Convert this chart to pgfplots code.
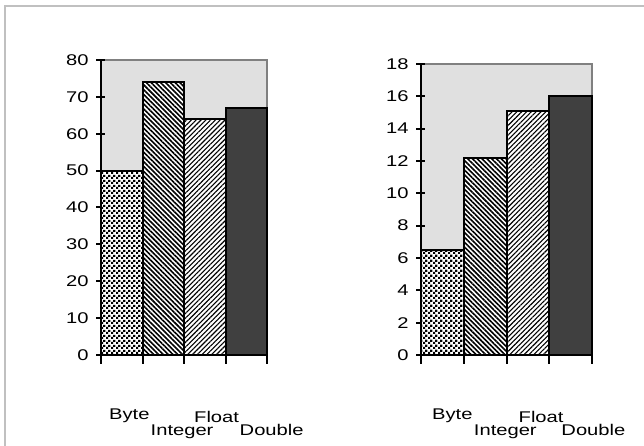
\documentclass[border=0pt]{standalone}
\usepackage{fontspec}
\setmainfont{Liberation Sans}[FakeStretch=1.3]
\usepackage{pgfplots}
\pgfplotsset{compat=1.18}
\usetikzlibrary{patterns,patterns.meta}
\pgfdeclarepattern{name=checker, type=uncolored,
  bottom left={\pgfpoint{0pt}{0pt}}, top right={\pgfpoint{4.6pt}{4.6pt}},
  tile size={\pgfpoint{4.6pt}{4.6pt}},
  code={\pgfpathrectangle{\pgfpoint{0pt}{0pt}}{\pgfpoint{2.3pt}{2.3pt}}\pgfusepath{fill}
        \pgfpathrectangle{\pgfpoint{2.3pt}{2.3pt}}{\pgfpoint{2.3pt}{2.3pt}}\pgfusepath{fill}}}
\definecolor{bggray}{HTML}{E0E0E0}
\definecolor{edgegray}{HTML}{808080}
\definecolor{framegray}{HTML}{C0C0C0}
\definecolor{dbl}{HTML}{404040}
\newcommand{\lblfont}{\fontsize{15.5}{18}\selectfont}
\tikzset{lbl/.style={font=\lblfont, anchor=base west, inner sep=0pt}}
\pgfplotsset{mybar/.style={
  scale only axis, anchor=south west,
  xmin=-0.5, xmax=3.5, ymin=0,
  ybar, bar width=1, bar shift=0pt,
  axis x line*=bottom, axis y line*=left,
  axis line style={line width=2.2pt, black, -},
  axis background/.style={fill=bggray, draw=edgegray, line width=2.2pt},
  xtick={-0.5,0.5,1.5,2.5,3.5}, xticklabels={},
  tick align=outside, major tick length=9pt,
  x tick style={line width=2pt, black},
  y tick style={line width=2pt, black, xshift=4pt},
  tick label style={font=\lblfont},
  /pgf/number format/assume math mode=true,
  clip=false,
  every axis plot/.append style={draw=black, line width=2pt},
}}
\begin{document}
\begin{tikzpicture}
\useasboundingbox (0pt,0pt) rectangle (644pt,446pt);
\draw[framegray, line width=2.5pt] (5pt,0pt) -- (5pt,440pt) -- (644pt,440pt);
% Left chart
\begin{axis}[mybar, at={(101pt,91pt)}, width=166pt, height=295pt, ymax=80, ytick distance=10]
\addplot[preaction={fill=white}, pattern=checker] coordinates {(0,50)};
\addplot[preaction={fill=white}, pattern={Lines[angle=-45,distance=3.4pt,line width=1.6pt]}] coordinates {(1,74)};
\addplot[preaction={fill=white}, pattern={Lines[angle=45,distance=3.4pt,line width=1.1pt]}] coordinates {(2,64)};
\addplot[fill=dbl] coordinates {(3,67)};
\node[lbl] at (axis cs:-0.5,0) [xshift=8pt, yshift=-65pt] {Byte};
\node[lbl] at (axis cs:0.5,0) [xshift=8pt, yshift=-81pt] {Integer};
\node[lbl] at (axis cs:1.5,0) [xshift=10pt, yshift=-67pt] {Float};
\node[lbl] at (axis cs:2.5,0) [xshift=14pt, yshift=-81pt] {Double};
\end{axis}
% Right chart
\begin{axis}[mybar, at={(421pt,91pt)}, width=171pt, height=291pt, ymax=18, ytick distance=2]
\addplot[preaction={fill=white}, pattern=checker] coordinates {(0,6.5)};
\addplot[preaction={fill=white}, pattern={Lines[angle=-45,distance=3.4pt,line width=1.6pt]}] coordinates {(1,12.2)};
\addplot[preaction={fill=white}, pattern={Lines[angle=45,distance=3.4pt,line width=1.1pt]}] coordinates {(2,15.1)};
\addplot[fill=dbl] coordinates {(3,16.0)};
\node[lbl] at (axis cs:-0.5,0) [xshift=11pt, yshift=-65pt] {Byte};
\node[lbl] at (axis cs:0.5,0) [xshift=10pt, yshift=-81pt] {Integer};
\node[lbl] at (axis cs:1.5,0) [xshift=12pt, yshift=-67pt] {Float};
\node[lbl] at (axis cs:2.5,0) [xshift=12pt, yshift=-81pt] {Double};
\end{axis}
\end{tikzpicture}
\end{document}
